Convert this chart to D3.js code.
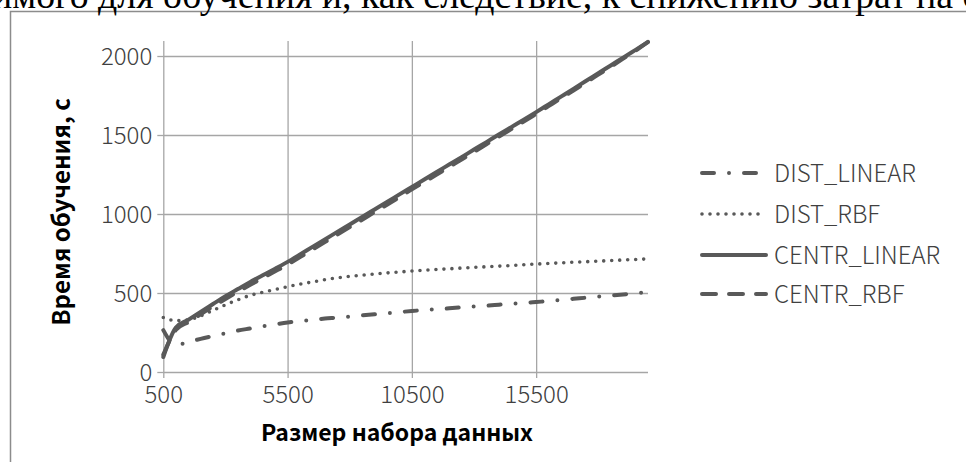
<!DOCTYPE html>
<html><head><meta charset="utf-8">
<script src="https://cdn.jsdelivr.net/npm/d3@7"></script>
<style>body{margin:0;background:#fff;overflow:hidden} svg{display:block}</style>
</head><body><svg id="c" width="966" height="462"></svg>
<script>
const categories = ["500","1000","1500","2000","2500","3000","3500","4000","4500","5000",
  "5500","6000","6500","7000","7500","8000","8500","9000","9500","10000",
  "10500","11000","11500","12000","12500","13000","13500","14000","14500","15000",
  "15500","16000","16500","17000","17500","18000","18500","19000","19500","20000"];
const xTickLabels = ["500","5500","10500","15500"];
const yTicks = [0, 500, 1000, 1500, 2000];
const seriesNames = ["DIST_LINEAR","DIST_RBF","CENTR_LINEAR","CENTR_RBF"];
const distLinear = [265,170,190,210,228,245,262,276,290,302,313,322,330,338,344,351,358,365,372,379,
  386,392,397,403,409,415,420,426,432,437,443,449,456,463,470,477,484,491,498,505];
const distRbf = [345,325,330,355,390,425,457,485,505,522,540,556,570,584,596,605,613,620,627,633,
  639,644,649,653,658,662,666,670,674,679,683,687,691,695,698,702,705,709,712,716];
const centrLinear = [95,280,330,380,430,480,525,570,612,654,697,744,792,839,887,934,982,1029,1076,1124,
  1171,1218,1266,1313,1360,1408,1455,1503,1550,1597,1645,1694,1743,1792,1842,1891,1940,1990,2039,2088];
const centrRbf = [110,265,315,365,415,462,508,552,595,637,680,727,775,822,869,917,964,1012,1059,1106,
  1156,1203,1250,1298,1345,1393,1441,1489,1537,1585,1634,1683,1732,1782,1832,1882,1932,1983,2034,2090];
const topText = "нимого для обучения и, как следствие, к снижению затрат на с";
const yTitle = "Время обучения, с";
const xTitle = "Размер набора данных";

const svg = d3.select("#c");
const gridColor = "#a6a6a6", lineColor = "#595959", textColor = "#404040";
const tickFont = "'Noto Sans CJK SC','Lato','DejaVu Sans',sans-serif";
const boldFont = "'Noto Sans CJK SC','Noto Sans','DejaVu Sans',sans-serif";

const plotL = 163.3, plotR = 648, plotT = 41, plotB = 372;
const x = d3.scalePoint().domain(categories).range([plotL, plotR]);
const y = d3.scaleLinear().domain([0, 2095]).range([plotB, plotT]);

// frame
svg.append("path").attr("d", "M10.5,462V11.5H966").attr("fill","none")
  .attr("stroke","#8c8c8c").attr("stroke-width",1.5);

// top text
const tt = svg.append("text").attr("font-family","'Liberation Serif','Times New Roman',serif")
  .attr("font-size",30).attr("fill","#000").attr("y",8).text(topText);
{
  const node = tt.node();
  const iD = topText.indexOf("для"), iN = topText.indexOf("на с");
  const p1 = node.getStartPositionOfChar(iD).x, p2 = node.getStartPositionOfChar(iN).x;
  const fs = 30 * (916 - 98) / (p2 - p1);
  tt.attr("font-size", fs);
  const q1 = node.getStartPositionOfChar(iD).x;
  tt.attr("x", 98 - q1);
}

// gridlines
const gy = svg.append("g").attr("transform",`translate(${plotL},0)`)
  .call(d3.axisLeft(y).tickValues(yTicks).tickSizeInner(-(plotR - plotL)).tickSizeOuter(0).tickFormat(""));
gy.select(".domain").remove();
gy.selectAll("line").attr("stroke",gridColor).attr("stroke-width",1.3);
const gx = svg.append("g").attr("transform",`translate(0,${plotB})`)
  .call(d3.axisBottom(x).tickValues(xTickLabels).tickSizeInner(-(plotB - plotT)).tickSizeOuter(0).tickFormat(""));
gx.select(".domain").remove();
gx.selectAll("line").attr("stroke",gridColor).attr("stroke-width",1.3);

// small outer ticks + labels
const ay = svg.append("g").attr("transform",`translate(${plotL},0)`)
  .call(d3.axisLeft(y).tickValues(yTicks).tickFormat(d3.format("d")).tickSizeInner(6).tickSizeOuter(0).tickPadding(5));
ay.select(".domain").remove();
ay.selectAll("line").attr("stroke",gridColor).attr("stroke-width",1.3);
ay.selectAll("text").attr("font-family",tickFont).attr("font-weight",300).attr("font-size",24).attr("fill",textColor).attr("dy","0.36em");
const ax = svg.append("g").attr("transform",`translate(0,${plotB})`)
  .call(d3.axisBottom(x).tickValues(xTickLabels).tickSizeInner(6).tickSizeOuter(0).tickPadding(25));
ax.select(".domain").remove();
ax.selectAll("line").attr("stroke",gridColor).attr("stroke-width",1.3);
ax.selectAll("text").attr("font-family",tickFont).attr("font-weight",300).attr("font-size",24).attr("fill",textColor).attr("dy",0);

// axis titles
svg.append("text").attr("transform","translate(70,212) rotate(-90)").attr("text-anchor","middle")
  .attr("font-family",boldFont).attr("font-weight","bold").attr("font-size",24).attr("fill","#000").text(yTitle);
svg.append("text").attr("x",397).attr("y",441).attr("text-anchor","middle")
  .attr("font-family",boldFont).attr("font-weight","bold").attr("font-size",23).attr("fill","#000").text(xTitle);

// series
const styles = [
  {dash:"12,15,0,15", w:4},
  {dash:"0,8", w:3.6},
  {dash:null, w:4},
  {dash:"14,13", w:4}
];
const data = [distLinear, distRbf, centrLinear, centrRbf];
const line = d3.line().x((d,i) => x(categories[i])).y(d => y(d)).curve(d3.curveMonotoneX);
data.forEach((s, k) => {
  svg.append("path").datum(s).attr("d", line).attr("fill","none")
    .attr("stroke", lineColor).attr("stroke-width", styles[k].w)
    .attr("stroke-linecap","round").attr("stroke-linejoin","round")
    .attr("stroke-dasharray", styles[k].dash);
});

// legend
const legY = [173, 214, 255, 294];
const lg = svg.append("g");
seriesNames.forEach((n, k) => {
  lg.append("line").attr("x1",702).attr("x2",766).attr("y1",legY[k]).attr("y2",legY[k])
    .attr("stroke",lineColor).attr("stroke-width",styles[k].w)
    .attr("stroke-linecap","round").attr("stroke-dasharray",styles[k].dash);
  lg.append("text").attr("x",774).attr("y",legY[k]).attr("dy","0.36em")
    .attr("font-family",tickFont).attr("font-weight",300).attr("font-size",24).attr("fill",textColor).text(n);
});
</script></body></html>
